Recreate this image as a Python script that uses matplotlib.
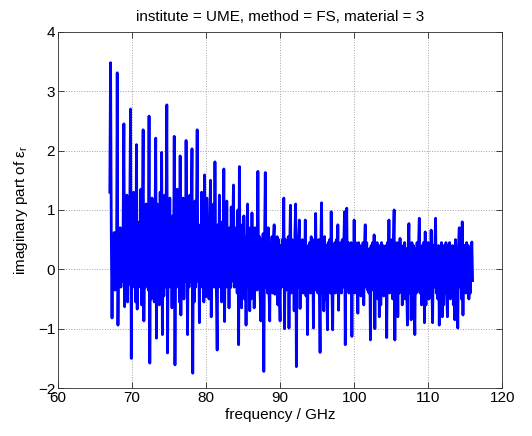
#!/usr/bin/env python3

import numpy as np
import matplotlib
matplotlib.use("Agg")
import matplotlib.pyplot as plt

# frequency sweep (GHz), sampled every 0.1 GHz
f_start = 67.0
f_stop = 116.0
f_step = 0.1

# imaginary part of eps_r (one row per GHz)
eps_imag = [
    1.30, 3.48, 0.60, -0.82, 0.55, -0.30, 0.62, -0.35, 0.50, -0.20,      # 67
    3.31, -0.94, 0.60, -0.25, 0.70, -0.30, 0.65, -0.20, 0.75, 2.45,      # 68
    -0.63, 0.70, -0.20, 1.25, -0.55, 0.60, -0.25, 1.05, 2.70, -1.50,     # 69
    0.65, -0.30, 1.30, -0.20, 0.60, -0.55, 2.10, -0.67, 0.70, -0.25,     # 70
    0.80, -0.30, 1.35, -0.60, 0.75, 2.35, -0.87, 0.55, -0.30, 1.10,      # 71
    -0.25, 0.65, -0.35, 2.58, -1.58, 0.60, -0.50, 1.20, -0.30, 0.55,     # 72
    -0.55, 0.70, 2.21, -1.16, 1.10, -0.30, 0.75, -0.60, 1.30, -0.35,     # 73
    1.97, -1.10, 0.60, -0.45, 1.25, -0.30, 0.80, 2.77, -1.41, 0.65,      # 74
    -0.30, 1.20, -0.20, 0.70, -0.65, 0.90, -0.25, 2.24, -1.61, 0.75,     # 75
    -0.30, 1.35, -0.20, 0.70, -0.55, 1.91, -0.77, 0.85, -0.25, 1.20,     # 76
    -0.50, 0.75, -0.20, 2.17, 0.40, -1.10, 0.80, -0.30, 1.25, -0.20,     # 77
    0.85, 2.03, -1.75, 0.70, -0.55, 1.15, -0.30, 0.80, 2.35, -0.20,      # 78
    0.75, -0.90, 0.60, -0.30, 1.30, -0.20, 0.95, -0.55, 1.59, 0.10,      # 79
    -0.46, 1.20, -0.20, 0.75, -0.50, 0.85, 1.50, -0.80, 0.70, -0.25,     # 80
    1.10, -0.30, 1.81, 0.20, -0.40, -1.36, 0.75, -0.25, 1.25, -0.30,     # 81
    0.70, -0.55, 0.80, -0.20, 1.69, -0.88, 0.65, -0.30, 1.15, -0.25,     # 82
    0.60, -0.65, 0.70, -0.31, 1.05, -0.20, 0.65, 1.42, -0.30, 0.70,      # 83
    -0.25, 0.60, -0.40, 1.00, -1.27, 1.73, -0.20, 0.75, -0.65, 0.60,     # 84
    -0.30, 0.90, -0.50, 0.55, -0.94, 0.40, 1.10, -0.30, 0.60, -0.70,     # 85
    0.70, -0.50, 0.95, -0.30, 0.60, -0.65, 0.70, -0.20, 0.50, -0.35,     # 86
    1.65, -0.20, 0.55, -0.40, -0.87, 0.50, -0.30, 0.60, -1.72, 0.40,     # 87
    1.63, -0.30, 0.50, -0.40, 0.70, -0.35, -0.87, 0.45, -0.30, 0.55,     # 88
    -0.40, 0.50, 0.75, -0.42, 0.45, -0.30, 0.55, -0.60, 0.50, -0.35,     # 89
    -0.87, 0.40, -0.30, 0.50, 0.30, 1.20, -1.00, 0.50, -0.35, 0.45,      # 90
    -0.30, 0.55, -0.99, 0.40, 1.08, -0.40, 0.50, -0.35, 0.45, -0.70,     # 91
    0.60, 1.10, -1.64, 0.40, -0.30, 0.55, 0.83, -0.66, 0.40, -0.35,      # 92
    0.50, -0.40, 0.45, -0.30, 0.83, -0.45, 0.40, -1.10, 0.35, -0.35,     # 93
    0.45, -0.40, 0.55, -0.30, 0.40, -0.99, 0.50, -0.35, 0.94, -0.30,     # 94
    0.45, -0.40, 0.50, -0.35, -1.40, 0.40, 1.12, -0.40, 0.45, -0.70,     # 95
    0.55, -0.50, 0.40, -0.35, -1.02, 0.45, -0.30, 0.50, -0.40, 0.97,     # 96
    -0.30, -1.02, 0.40, -0.35, 0.45, -0.40, 0.50, -0.30, 0.75, -0.69,    # 97
    0.40, -0.35, 0.45, -0.40, 0.50, -0.30, 0.40, 0.97, -1.27, 0.35,      # 98
    1.03, -0.30, 0.45, -0.40, 0.40, -0.35, 0.45, -1.13, 0.40, -0.30,     # 99
    0.83, -0.40, 0.45, -0.35, 0.20, -0.74, 0.45, -0.30, 0.40, -0.45,     # 100
    0.35, -0.40, 0.45, -0.60, 0.40, 0.75, -0.30, 0.45, -0.35, 0.25,      # 101
    -0.40, 0.35, -1.19, 0.40, -0.35, 0.45, -0.30, 0.58, -1.00, 0.40,     # 102
    -0.35, 0.45, -0.50, 0.35, -0.80, 0.40, -0.60, 0.45, -0.30, 0.40,     # 103
    -0.45, 0.35, -0.40, 0.40, -1.15, 0.45, -0.30, 0.83, -0.40, 0.35,     # 104
    -0.35, 0.50, -0.50, 0.40, 1.00, -1.19, 0.40, -0.35, 0.45, -0.80,     # 105
    0.35, -0.40, 0.52, -0.35, 0.40, -0.60, 0.35, -0.40, 0.45, -0.50,     # 106
    0.35, -0.30, -0.94, 0.40, 0.77, -0.40, 0.35, -0.85, 0.45, -0.35,     # 107
    0.40, -0.50, -1.10, 0.35, -0.40, 0.45, -0.35, 0.40, 0.86, -0.40,     # 108
    0.35, -0.60, 0.40, -0.35, 0.45, -0.90, 0.63, -0.60, 0.35, -0.40,     # 109
    0.45, -0.50, 0.35, -0.40, 0.66, -0.35, -0.90, 0.40, -0.30, 0.35,     # 110
    0.86, -0.40, 0.35, -0.50, 0.40, -0.94, 0.35, -0.40, 0.45, -0.80,     # 111
    0.40, -0.60, 0.35, -0.40, 0.45, -0.35, -0.80, 0.40, -0.30, 0.45,     # 112
    -0.50, 0.35, -0.40, 0.40, -0.60, 0.35, -0.85, 0.50, -0.30, -0.40,    # 113
    -0.99, 0.40, 0.70, -0.30, 0.40, -0.50, 0.80, -0.77, 0.40, -0.35,     # 114
    0.40, -0.40, 0.45, -0.35, 0.40, -0.50, 0.35, -0.40, 0.30, 0.46,      # 115
    -0.19,                                                               # 116
]

xticks = [60, 70, 80, 90, 100, 110, 120]
yticks = [-2, -1, 0, 1, 2, 3, 4]

freq = np.round(np.arange(f_start, f_stop + f_step / 2, f_step), 3)[:len(eps_imag)]

plt.rcParams['font.family'] = ['Liberation Sans', 'DejaVu Sans']
plt.rcParams['mathtext.fontset'] = 'custom'
plt.rcParams['mathtext.rm'] = 'Liberation Sans'

fig = plt.figure(figsize=(5.32, 4.36), dpi=100)
ax = fig.add_axes([0.109, 0.110, 0.835, 0.817])

ax.plot(freq, eps_imag, color='#0000ff', linewidth=2.0)

ax.set_xlim(60, 120)
ax.set_ylim(-2, 4)
ax.set_xticks(xticks)
ax.set_yticks(yticks)
ax.tick_params(direction='in', top=True, right=True, length=4, width=0.5,
               labelsize=11, pad=2)
ax.grid(True, linestyle=':', color='#a0a0a0', linewidth=0.7)
for s in ax.spines.values():
    s.set_linewidth(0.6)
    s.set_color('#303030')

ax.set_xlabel('frequency / GHz', fontsize=11, labelpad=2)
ax.set_ylabel('imaginary part of ε$_\\mathregular{r}$', fontsize=11, labelpad=6)
ax.set_title('institute = UME, method = FS, material = 3', fontsize=11, pad=8)

fig.savefig('out.png', dpi=100)
